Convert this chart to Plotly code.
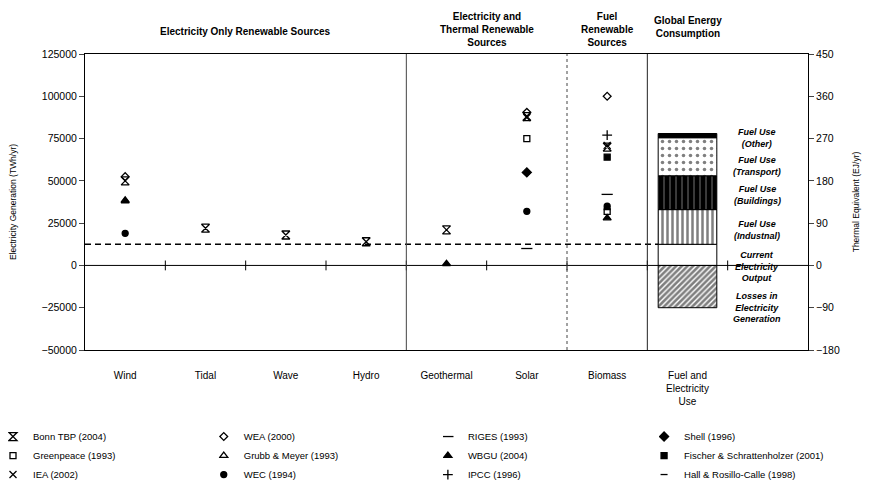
import plotly.graph_objects as go

categories = ["Wind", "Tidal", "Wave", "Hydro", "Geothermal", "Solar", "Biomass",
              "Fuel and<br>Electricity<br>Use"]

# Estimates by source: (category index, TWh/yr)
bonn_x = [0, 1, 2, 3, 4, 5, 6]
bonn_y = [50000, 22000, 18000, 14000, 21000, 88000, 70000]
wea_x = [0, 5, 6]
wea_y = [52500, 90500, 100000]
riges_x = [5, 6]
riges_y = [10000, 42000]
shell_x = [5]
shell_y = [55000]
greenpeace_x = [5, 6]
greenpeace_y = [75000, 32000]
grubb_x = [0]
grubb_y = [38500]
wbgu_x = [0, 4, 6]
wbgu_y = [38000, 1000, 28000]
fischer_x = [6]
fischer_y = [64000]
iea_x = [5, 6]
iea_y = [87500, 71000]
wec_x = [0, 5, 6]
wec_y = [19000, 32000, 35000]
ipcc_x = [6]
ipcc_y = [77000]
hall_x = [6]
hall_y = [33000]

# Global energy consumption stack (TWh/yr)
losses = -25000
current_electricity = 12500
fuel_industrial = 20500
fuel_buildings = 20000
fuel_transport = 22500
fuel_other = 2500

section_titles = ["Electricity Only Renewable Sources",
                  "Electricity and<br>Thermal Renewable<br>Sources",
                  "Fuel<br>Renewable<br>Sources",
                  "Global Energy<br>Consumption"]

FONT = "Liberation Sans, Arial, sans-serif"
fig = go.Figure()

# (name, x, y, symbol, size, legend column)
series = [
    ("Bonn TBP (2004)", bonn_x, bonn_y, "hourglass-open", 8, "legend"),
    ("Greenpeace (1993)", greenpeace_x, greenpeace_y, "square-open", 6, "legend"),
    ("IEA (2002)", iea_x, iea_y, "x-thin-open", 7, "legend"),
    ("WEA (2000)", wea_x, wea_y, "diamond-open", 6, "legend2"),
    ("Grubb & Meyer (1993)", grubb_x, grubb_y, "triangle-up-open", 7, "legend2"),
    ("WEC (1994)", wec_x, wec_y, "circle", 6, "legend2"),
    ("RIGES (1993)", riges_x, riges_y, "line-ew-open", 8, "legend3"),
    ("WBGU (2004)", wbgu_x, wbgu_y, "triangle-up", 7, "legend3"),
    ("IPCC (1996)", ipcc_x, ipcc_y, "cross-thin-open", 7, "legend3"),
    ("Shell (1996)", shell_x, shell_y, "diamond", 7, "legend4"),
    ("Fischer & Schrattenholzer (2001)", fischer_x, fischer_y, "square", 6, "legend4"),
    ("Hall & Rosillo-Calle (1998)", hall_x, hall_y, "line-ew-open", 5, "legend4"),
]

# stacked bar for global consumption
cat_fuel = 7
stack = [
    ("Losses", 0, losses, dict(color="white", pattern=dict(shape="/", fgcolor="black", bgcolor="white", size=4, solidity=0.65))),
    ("Electricity", 0, current_electricity, dict(color="white")),
    ("Industrial", current_electricity, fuel_industrial, dict(color="white", pattern=dict(shape="|", fgcolor="black", bgcolor="white", size=5, solidity=0.5))),
    ("Buildings", current_electricity + fuel_industrial, fuel_buildings, dict(color="black", pattern=dict(shape="|", fgcolor="white", bgcolor="black", size=6, solidity=0.15))),
    ("Transport", current_electricity + fuel_industrial + fuel_buildings, fuel_transport, dict(color="white", pattern=dict(shape=".", fgcolor="black", bgcolor="white", size=7, solidity=0.2))),
    ("Other", current_electricity + fuel_industrial + fuel_buildings + fuel_transport, fuel_other, dict(color="black")),
]
for name, base, val, mk in stack:
    mk = dict(mk)
    mk["line"] = dict(color="black", width=1)
    fig.add_trace(go.Bar(x=[cat_fuel], y=[val], base=[base], width=0.73, marker=mk,
                         showlegend=False, hoverinfo="skip", name=name))

# zero line tick marks between categories
bounds = [i + 0.5 for i in range(len(categories))]
fig.add_trace(go.Scatter(x=bounds, y=[0] * len(bounds), mode="markers",
                         marker=dict(symbol="line-ns-open", size=7, color="black", line=dict(width=1)),
                         showlegend=False, hoverinfo="skip"))

for name, xs, ys, sym, sz, lg in series:
    fig.add_trace(go.Scatter(x=xs, y=ys, mode="markers", name=name, legend=lg,
                             marker=dict(symbol=sym, size=sz, color="black",
                                         line=dict(color="black", width=1.3))))

# dummy trace to activate y2
fig.add_trace(go.Scatter(x=[None], y=[None], yaxis="y2", showlegend=False))

shapes = [
    dict(type="line", xref="x", yref="y", x0=-0.5, x1=8.5, y0=0, y1=0,
         line=dict(color="black", width=1)),
    dict(type="line", xref="x", yref="y", x0=-0.5, x1=cat_fuel, y0=current_electricity, y1=current_electricity,
         line=dict(color="black", width=1.6, dash="6px,4px"), layer="below"),
    dict(type="line", xref="x", yref="paper", x0=3.5, x1=3.5, y0=0, y1=1,
         line=dict(color="#444", width=1)),
    dict(type="line", xref="x", yref="paper", x0=5.5, x1=5.5, y0=0, y1=1,
         line=dict(color="#444", width=1, dash="dot")),
    dict(type="line", xref="x", yref="paper", x0=6.5, x1=6.5, y0=0, y1=1,
         line=dict(color="#222", width=1)),
]

annotations = []
sec_x = [1.5, 4.5, 6.0, 7.0]
sec_y = [1.05, 1.012, 1.012, 1.045]
for t, x, y in zip(section_titles, sec_x, sec_y):
    annotations.append(dict(text="<b>" + t + "</b>", x=x, y=y, xref="x", yref="paper",
                            showarrow=False, yanchor="bottom",
                            font=dict(size=10, family=FONT, color="black")))

labels = [
    ("Fuel Use<br>(Other)", 75500),
    ("Fuel Use<br>(Transport)", 59000),
    ("Fuel Use<br>(Buildings)", 41500),
    ("Fuel Use<br>(Industnal)", 21000),
    ("Current<br>Electricity<br>Output", -500),
    ("Losses in<br>Electricity<br>Generation", -25000),
]
for t, y in labels:
    annotations.append(dict(text="<b><i>" + t + "</i></b>", x=7.87, y=y, xref="x", yref="y",
                            showarrow=False, font=dict(size=9, family=FONT, color="black")))

leg_common = dict(orientation="v", yref="container", y=0.141, xanchor="left", yanchor="top",
                  font=dict(size=9.5), itemwidth=30, tracegroupgap=0, indentation=-15,
                  bgcolor="rgba(0,0,0,0)")

# page body has an 8px margin: figure is drawn at (8, 8) in the window
fig.update_layout(
    width=881, height=482,
    margin=dict(l=77, r=81, t=46, b=140),
    plot_bgcolor="white", paper_bgcolor="white",
    font=dict(family=FONT, size=9, color="black"),
    barmode="overlay",
    shapes=shapes, annotations=annotations,
    xaxis=dict(range=[-0.5, 8.5], tickvals=list(range(len(categories))), ticktext=categories,
               showline=True, linecolor="black", mirror=True, showgrid=False, zeroline=False,
               ticks="", tickfont=dict(size=10), automargin=False, ticklabelstandoff=16),
    yaxis=dict(range=[-50000, 125000], dtick=25000, showgrid=False, zeroline=False,
               showline=True, linecolor="black", ticks="outside", ticklen=5,
               tickformat="d", tickfont=dict(size=10.5), automargin=False,
               title=dict(text="Electricity Generation (TWh/yr)", font=dict(size=8.5), standoff=28)),
    yaxis2=dict(range=[-180, 450], dtick=90, overlaying="y", side="right", showgrid=False,
                zeroline=False, showline=True, linecolor="black", ticks="outside", ticklen=5,
                tickfont=dict(size=10.5), automargin=False,
                title=dict(text="Thermal Equivalent (EJ/yr)", font=dict(size=8.5), standoff=14)),
    legend=dict(x=-0.125, **leg_common),
    legend2=dict(x=0.185, **leg_common),
    legend3=dict(x=0.495, **leg_common),
    legend4=dict(x=0.794, **leg_common),
)

fig.write_html("out.html")
